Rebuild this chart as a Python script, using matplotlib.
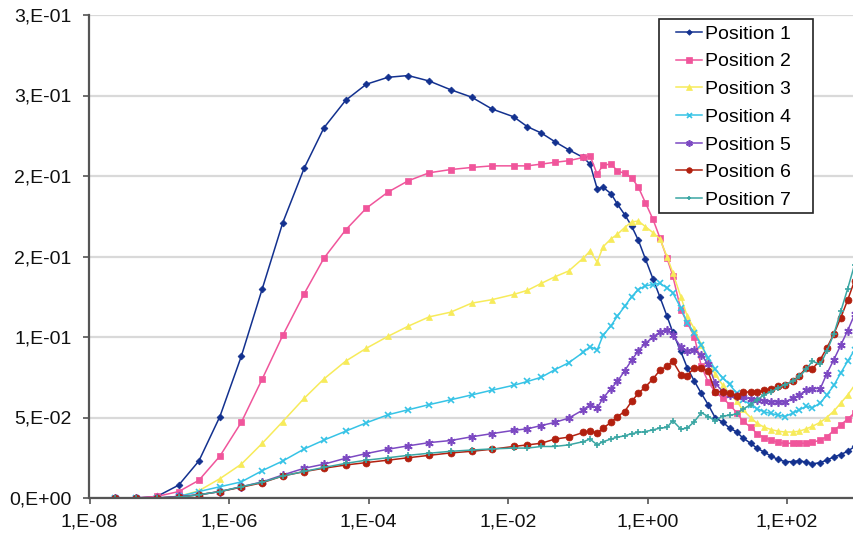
import matplotlib
matplotlib.use("Agg")
import matplotlib.pyplot as plt
from matplotlib.patches import Rectangle

plt.rcParams["font.family"] = ["Liberation Sans", "DejaVu Sans"]

# sweep points (x axis, log scale)
freq = [2.3e-8, 4.7e-8, 9.3e-8, 1.9e-7, 3.7e-7, 7.4e-7, 1.5e-6, 3.0e-6, 5.9e-6, 1.2e-5,
        2.3e-5, 4.7e-5, 9.3e-5, 1.9e-4, 3.7e-4, 7.4e-4, 1.5e-3, 3.0e-3, 5.9e-3, 1.2e-2,
        1.9e-2, 3.0e-2, 4.7e-2, 7.4e-2, 0.12, 0.15, 0.19, 0.23, 0.30, 0.37,
        0.47, 0.59, 0.74, 0.93, 1.2, 1.5, 1.9, 2.3, 3.0, 3.7,
        4.7, 5.9, 7.4, 9.3, 12, 15, 19, 23, 30, 37,
        47, 59, 74, 93, 120, 150, 190, 230, 300, 370,
        470, 590, 740, 930, 1200]

pos1 = [0, 0, 0.001, 0.008, 0.023, 0.0506, 0.088, 0.130, 0.171, 0.205,
        0.230, 0.247, 0.257, 0.2613, 0.2624, 0.259, 0.2536, 0.249, 0.2416, 0.2368,
        0.2306, 0.2267, 0.2213, 0.2163, 0.2115, 0.2074, 0.192, 0.193, 0.189, 0.1825,
        0.176, 0.169, 0.160, 0.1486, 0.136, 0.125, 0.113, 0.103, 0.091, 0.081,
        0.0725, 0.065, 0.058, 0.050, 0.047, 0.0435, 0.041, 0.0375, 0.034, 0.031,
        0.0285, 0.026, 0.024, 0.0226, 0.0226, 0.0232, 0.0222, 0.0212, 0.022, 0.0235,
        0.0255, 0.027, 0.029, 0.032, 0.035]

pos2 = [0, 0, 0.001, 0.004, 0.011, 0.026, 0.047, 0.074, 0.101, 0.127,
        0.149, 0.1665, 0.180, 0.190, 0.197, 0.202, 0.204, 0.2053, 0.2063, 0.2063,
        0.2063, 0.2074, 0.2085, 0.2095, 0.2115, 0.2126, 0.201, 0.2068, 0.2074, 0.2032,
        0.2016, 0.199, 0.193, 0.1835, 0.173, 0.1617, 0.149, 0.138, 0.117, 0.109,
        0.100, 0.082, 0.072, 0.066, 0.062, 0.058, 0.053, 0.048, 0.044, 0.040,
        0.0375, 0.036, 0.0345, 0.034, 0.034, 0.034, 0.034, 0.0345, 0.036, 0.038,
        0.042, 0.0455, 0.049, 0.053, 0.057]

pos3 = [0, 0, 0, 0.001, 0.0045, 0.012, 0.021, 0.034, 0.0475, 0.062,
        0.074, 0.085, 0.093, 0.1004, 0.1067, 0.1125, 0.1154, 0.121, 0.1232, 0.1264,
        0.129, 0.1333, 0.1374, 0.141, 0.149, 0.1534, 0.1465, 0.156, 0.161, 0.1638,
        0.168, 0.1715, 0.172, 0.1686, 0.1648, 0.161, 0.150, 0.140, 0.125, 0.113,
        0.105, 0.095, 0.085, 0.077, 0.070, 0.065, 0.060, 0.055, 0.050, 0.0465,
        0.044, 0.0425, 0.0415, 0.041, 0.041, 0.0415, 0.043, 0.0445, 0.047, 0.050,
        0.054, 0.059, 0.064, 0.070, 0.076]

pos4 = [0, 0, 0, 0.001, 0.004, 0.007, 0.010, 0.017, 0.023, 0.0305,
        0.036, 0.0415, 0.0467, 0.0517, 0.0548, 0.058, 0.061, 0.064, 0.067, 0.070,
        0.0724, 0.075, 0.0797, 0.084, 0.0905, 0.094, 0.092, 0.101, 0.107, 0.113,
        0.119, 0.125, 0.1295, 0.1318, 0.1326, 0.1333, 0.1306, 0.1275, 0.118, 0.109,
        0.1025, 0.095, 0.087, 0.080, 0.0745, 0.0705, 0.065, 0.061, 0.058, 0.0555,
        0.0535, 0.0525, 0.0515, 0.0506, 0.0527, 0.0548, 0.0569, 0.056, 0.059, 0.064,
        0.070, 0.0777, 0.085, 0.092, 0.100]

pos5 = [0, 0, 0, 0.001, 0.002, 0.004, 0.007, 0.010, 0.0143, 0.0185,
        0.021, 0.0247, 0.0276, 0.0303, 0.0324, 0.0344, 0.0357, 0.038, 0.040, 0.042,
        0.043, 0.045, 0.047, 0.0496, 0.0548, 0.058, 0.056, 0.062, 0.068, 0.0724,
        0.079, 0.0855, 0.0915, 0.096, 0.100, 0.103, 0.1046, 0.101, 0.094, 0.091,
        0.092, 0.089, 0.083, 0.0714, 0.066, 0.064, 0.0635, 0.0627, 0.0617, 0.061,
        0.0604, 0.0598, 0.0596, 0.0596, 0.062, 0.064, 0.067, 0.068, 0.068, 0.077,
        0.086, 0.095, 0.104, 0.114, 0.124]

pos6 = [0, 0, 0, 0.0005, 0.002, 0.004, 0.0067, 0.0095, 0.0137, 0.0164,
        0.0185, 0.0205, 0.022, 0.0235, 0.025, 0.0265, 0.028, 0.029, 0.0303, 0.032,
        0.033, 0.034, 0.0366, 0.0378, 0.0407, 0.0417, 0.0403, 0.0434, 0.047, 0.0506,
        0.0537, 0.060, 0.065, 0.069, 0.074, 0.0793, 0.0818, 0.085, 0.0766, 0.076,
        0.081, 0.081, 0.0787, 0.066, 0.066, 0.065, 0.0635, 0.0656, 0.066, 0.0656,
        0.0668, 0.068, 0.0693, 0.0704, 0.0724, 0.076, 0.081, 0.080, 0.086, 0.093,
        0.102, 0.112, 0.123, 0.135, 0.148]

pos7 = [0, 0, 0, 0.0005, 0.002, 0.004, 0.007, 0.0098, 0.0137, 0.0165,
        0.019, 0.0215, 0.0235, 0.025, 0.0265, 0.0278, 0.029, 0.0298, 0.0305, 0.031,
        0.031, 0.032, 0.032, 0.033, 0.035, 0.0366, 0.033, 0.035, 0.0366, 0.0378,
        0.0386, 0.040, 0.0407, 0.0413, 0.0423, 0.0434, 0.0438, 0.048, 0.0428, 0.0434,
        0.0475, 0.053, 0.0506, 0.048, 0.051, 0.0513, 0.0523, 0.055, 0.058, 0.061,
        0.064, 0.066, 0.0683, 0.0704, 0.0724, 0.0755, 0.080, 0.085, 0.083, 0.091,
        0.102, 0.116, 0.130, 0.145, 0.158]

labels = ["Position 1", "Position 2", "Position 3", "Position 4",
          "Position 5", "Position 6", "Position 7"]

yticks = [0, 0.05, 0.10, 0.15, 0.20, 0.25, 0.30]
ytick_labels = ["0,E+00", "5,E-02", "1,E-01", "2,E-01", "2,E-01", "3,E-01", "3,E-01"]
xticks = [1e-8, 1e-6, 1e-4, 1e-2, 1e0, 1e2]
xtick_labels = ["1,E-08", "1,E-06", "1,E-04", "1,E-02", "1,E+00", "1,E+02"]

# (color, marker, markersize)
styles = [
    ("#13318F", "D", 3.5),
    ("#F0559B", "s", 5),
    ("#F7EB5A", "^", 5),
    ("#36C3E6", "x", 4.5),
    ("#7C49C2", (6, 2, 0), 6),
    ("#B2200F", "o", 5),
    ("#3AA6A3", "+", 4),
]

W, H = 854, 539
fig = plt.figure(figsize=(W / 100, H / 100), dpi=100)
ax = fig.add_axes([89.5 / W, 41 / H, 1 - 89.5 / W, 483 / H])

series = [pos1, pos2, pos3, pos4, pos5, pos6, pos7]
handles = []
for ys, lab, (c, m, ms) in zip(series, labels, styles):
    h, = ax.plot(freq, ys, color=c, marker=m, markersize=ms, lw=1.1,
                 markeredgewidth=1.2 if m in ("x", "+") or isinstance(m, tuple) else 0.5,
                 markeredgecolor=c, label=lab)
    handles.append(h)

ax.set_xscale("log")
ax.set_xlim(1e-8, 10 ** 2.96)
ax.set_ylim(0, 0.3)

ax.set_xticks(xticks)
ax.set_xticklabels(xtick_labels)
ax.xaxis.set_minor_locator(matplotlib.ticker.NullLocator())
ax.set_yticks(yticks)
ax.set_yticklabels(ytick_labels)

ax.grid(axis="y", color="#D9D9D9", lw=1.6)
ax.set_axisbelow(True)
for s in ("top", "right"):
    ax.spines[s].set_visible(False)
for s in ("left", "bottom"):
    ax.spines[s].set_color("#555555")
    ax.spines[s].set_linewidth(1.6)

ax.tick_params(axis="both", direction="out", length=4, width=1.2,
               color="#555555", labelsize=14, labelcolor="#111111")
ax.tick_params(axis="y", pad=9)
ax.tick_params(axis="x", pad=7)

# legend box drawn separately (wide side padding, tight top/bottom like the original)
box = Rectangle((659 / W, 1 - 213 / H), (813 - 659) / W, (213 - 19) / H,
                transform=fig.transFigure, facecolor="white", edgecolor="#222222",
                linewidth=1.2, zorder=3)
fig.patches.append(box)
leg = fig.legend(handles=handles, labels=labels, loc="upper left",
                 bbox_to_anchor=(676 / W, 1 - 25 / H), bbox_transform=fig.transFigure,
                 fontsize=14, frameon=False, borderpad=0, borderaxespad=0,
                 labelspacing=0.52, handlelength=1.35, handletextpad=0.15,
                 markerscale=0.8)
leg.set_zorder(5)

fig.savefig("out.png", dpi=100)
